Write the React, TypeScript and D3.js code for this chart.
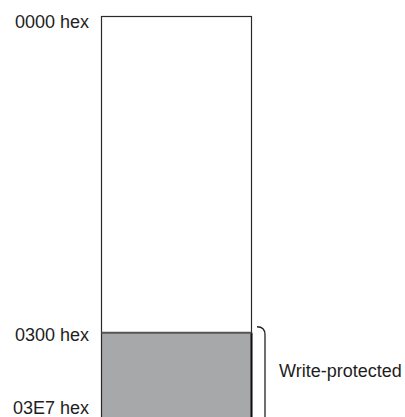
import React from "react";
import * as d3 from "d3";

const addresses = [0x0000, 0x0300, 0x03e7];
const addressLabels = ["0000 hex", "0300 hex", "03E7 hex"];
const protectedRange = [0x0300, 0x03e7];
const protectedLabel = "Write-protected";

const W = 405;
const H = 417;

export default function App() {
  const y = d3.scaleLinear().domain([0, 0x03e7]).range([16, 428]);
  const x0 = 101.5;
  const x1 = 251.5;
  const labelDy = [12, 8, -14.5];
  const yTop = y(protectedRange[0]);
  const yBot = y(protectedRange[1]);
  const braceX = 257;
  const braceR = 8;
  const bracePath = `M${braceX},${yTop - 6} Q${braceX + braceR},${yTop - 6} ${braceX + braceR},${yTop + 2} L${braceX + braceR},${yBot}`;
  return (
    <svg
      width={W}
      height={H}
      style={{ position: "absolute", left: 0, top: 0, display: "block" }}
      fontFamily="'Liberation Sans', Arial, sans-serif"
    >
      <rect x={0} y={0} width={W} height={H} fill="#fff" />
      <rect
        x={x0}
        y={yTop}
        width={x1 - x0}
        height={yBot - yTop}
        fill="#a7a8aa"
      />
      <rect
        x={x0}
        y={y(0) + 0.5}
        width={x1 - x0}
        height={yBot - y(0)}
        fill="none"
        stroke="#2a2a2a"
        strokeWidth={1.2}
      />
      <line x1={x1} x2={x1} y1={yTop} y2={yBot} stroke="#111" strokeWidth={2} />
      <line x1={x0} x2={x1} y1={yTop} y2={yTop} stroke="#555" strokeWidth={2} />
      <path d={bracePath} fill="none" stroke="#222" strokeWidth={1.3} />
      {addresses.map((a, i) => (
        <text
          key={addressLabels[i]}
          x={89}
          y={y(a) + labelDy[i]}
          textAnchor="end"
          fontSize={18}
          fill="#1e1e1e"
        >
          {addressLabels[i]}
        </text>
      ))}
      <text x={279} y={377} fontSize={18} fill="#1e1e1e">
        {protectedLabel}
      </text>
    </svg>
  );
}
